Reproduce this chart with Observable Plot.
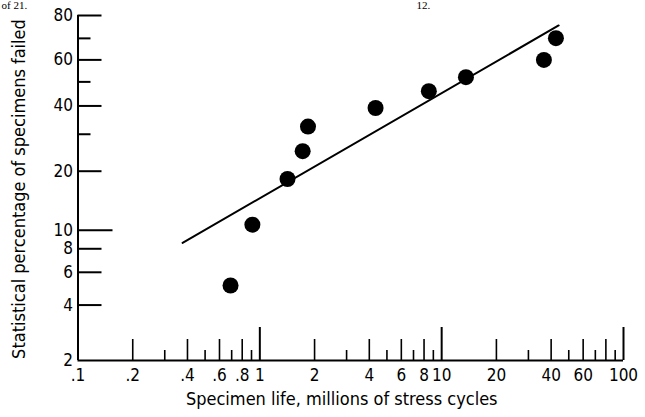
<!DOCTYPE html>
<html>
<head>
<meta charset="utf-8">
<script src="https://cdn.jsdelivr.net/npm/d3@7"></script>
<script src="https://cdn.jsdelivr.net/npm/@observablehq/plot@0.6"></script>
<style>
  html, body { margin: 0; padding: 0; background: #fff; }
  #chart svg { display: block; }
</style>
</head>
<body>
<div id="chart"></div>
<script>
// Specimen life (millions of stress cycles) and statistical percentage failed
const lifeMillions   = [0.69, 0.91, 1.42, 1.72, 1.84, 4.33, 8.5, 13.6, 36.5, 42.5];
const percentFailed  = [5.1, 10.7, 18.3, 25.0, 32.5, 39.2, 46.0, 52.1, 60.0, 70.1];

// Fitted Weibull line (end points)
const fitLife    = [0.376, 44.0];
const fitPercent = [8.6, 75.8];

// X axis ticks (log scale)
const xTallTicks   = [1, 10, 100];
const xMediumTicks = [0.2, 0.4, 0.6, 0.8, 2, 4, 6, 8, 20, 40, 60, 80];
const xShortTicks  = [0.3, 0.5, 0.7, 0.9, 3, 5, 7, 9, 30, 50, 70, 90];
const xTickLabels  = [0.1, 0.2, 0.4, 0.6, 0.8, 1, 2, 4, 6, 8, 10, 20, 40, 60, 100];

// Y axis ticks (Weibull probability scale, percent)
const yLongTicks   = [10];
const yMediumTicks = [4, 6, 8, 20, 40, 60, 80];
const yShortTicks  = [30, 50, 70];
const yTickLabels  = [2, 4, 6, 8, 10, 20, 40, 60, 80];

const xTitle = "Specimen life, millions of stress cycles";
const yTitle = "Statistical percentage of specimens failed";
const headerLeft = "of 21.";
const headerMid = "12.";

// Weibull transform
const wb = p => Math.log(-Math.log(1 - p / 100));

const W = 645, H = 417;
const mL = 77.5, mR = 22, mT = 15, mB = 57;
const frameW = W - mL - mR, frameH = H - mT - mB;

const points = lifeMillions.map((x, i) => ({x, y: wb(percentFailed[i])}));
const fit = fitLife.map((x, i) => ({x, y: wb(fitPercent[i])}));

const fmtX = d => d < 1 ? String(d).replace(/^0/, "") : String(d);

const yMin = wb(2), yMax = wb(80);

const font = "'DejaVu Sans Condensed', 'Liberation Sans Narrow', sans-serif";
const serif = "'Liberation Serif', 'DejaVu Serif', serif";

const chart = Plot.plot({
  width: W,
  height: H,
  marginLeft: mL,
  marginRight: mR,
  marginTop: mT,
  marginBottom: mB,
  style: {fontFamily: font, background: "#fff", color: "#000"},
  x: {type: "log", domain: [0.1, 100], axis: null},
  y: {type: "linear", domain: [yMin, yMax], axis: null},
  marks: [
    // axis lines
    Plot.ruleX([0.1], {y1: yMin, y2: yMax, stroke: "#000", strokeWidth: 2}),
    Plot.ruleY([yMin], {x1: 0.1, x2: 100, stroke: "#000", strokeWidth: 2}),
    // x ticks (upward from baseline)
    Plot.tickX(xTallTicks, {x: d => d, stroke: "#000", strokeWidth: 2, insetTop: frameH - 33}),
    Plot.tickX(xMediumTicks, {x: d => d, stroke: "#000", strokeWidth: 1.6, insetTop: frameH - 21}),
    Plot.tickX(xShortTicks, {x: d => d, stroke: "#000", strokeWidth: 1.6, insetTop: frameH - 10}),
    // y ticks (rightward from axis)
    Plot.tickY(yLongTicks, {y: wb, stroke: "#000", strokeWidth: 2, insetRight: frameW - 35}),
    Plot.tickY(yMediumTicks, {y: wb, stroke: "#000", strokeWidth: 2, insetRight: frameW - 24}),
    Plot.tickY(yShortTicks, {y: wb, stroke: "#000", strokeWidth: 2, insetRight: frameW - 13}),
    // tick labels
    Plot.text(xTickLabels, {x: d => d, text: fmtX, frameAnchor: "bottom", dy: 20, textAnchor: "middle", fontSize: 17, fill: "#000"}),
    Plot.text(yTickLabels, {y: wb, text: d => String(d), frameAnchor: "left", dx: -5, textAnchor: "end", fontSize: 17, fill: "#000"}),
    // axis titles
    Plot.text([xTitle], {frameAnchor: "bottom", dx: -9, dy: 44, textAnchor: "middle", fontSize: 18, fill: "#000"}),
    Plot.text([yTitle], {frameAnchor: "left", dx: -59, dy: 1, rotate: -90, textAnchor: "middle", fontSize: 18, fill: "#000"}),
    // header fragments
    Plot.text([headerLeft], {frameAnchor: "top-left", dx: 1 - mL, dy: -mT + 1, textAnchor: "start", lineAnchor: "top", fontSize: 11, fontFamily: serif, fill: "#000"}),
    Plot.text([headerMid], {frameAnchor: "top-left", dx: 416 - mL, dy: -mT + 1, textAnchor: "start", lineAnchor: "top", fontSize: 11, fontFamily: serif, fill: "#000"}),
    // fitted line
    Plot.line(fit, {x: "x", y: "y", stroke: "#000", strokeWidth: 2}),
    // data points
    Plot.dot(points, {x: "x", y: "y", r: 8, fill: "#000", stroke: "none"})
  ]
});

document.getElementById("chart").appendChild(chart);
</script>
</body>
</html>
